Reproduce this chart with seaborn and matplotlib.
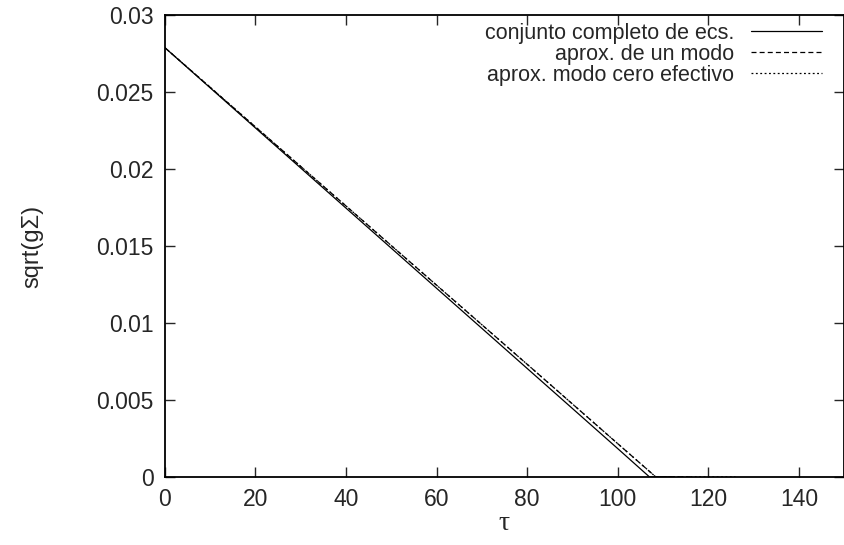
import pandas as pd
import matplotlib
matplotlib.use("Agg")
import matplotlib.pyplot as plt
import seaborn as sns

# data
tau_full = [0, 20, 40, 60, 80, 100, 107, 112]
sig_full = [0.0279, 0.02268, 0.01747, 0.01226, 0.00705, 0.00184, 0.0, 0.0]

tau_one = [0, 20, 40, 60, 80, 100, 108.4, 116]
sig_one = [0.0279, 0.02275, 0.01761, 0.01246, 0.00732, 0.00216, 0.0, 0.0]

tau_zero = [0, 20, 40, 60, 80, 100, 108.4, 126]
sig_zero = [0.0279, 0.02275, 0.01761, 0.01246, 0.00732, 0.00216, 0.0, 0.0]

labels = ["conjunto completo de ecs.", "aprox. de un modo", "aprox. modo cero efectivo"]
yticks = [0, 0.005, 0.01, 0.015, 0.02, 0.025, 0.03]
ytick_labels = ["0", "0.005", "0.01", "0.015", "0.02", "0.025", "0.03"]
xticks = [0, 20, 40, 60, 80, 100, 120, 140]

sns.set_style("ticks")
plt.rcParams['font.family'] = ['Liberation Sans', 'DejaVu Sans']

fig = plt.figure(figsize=(8.45, 5.45), dpi=100)
ax = fig.add_axes([0.195, 0.125, 0.804, 0.847])

styles = ["-", (0, (4, 2.5)), (0, (1.5, 2))]
for tx, sy, lab, ls in zip([tau_full, tau_one, tau_zero], [sig_full, sig_one, sig_zero], labels, styles):
    df = pd.DataFrame({"tau": tx, "sig": sy})
    sns.lineplot(data=df, x="tau", y="sig", ax=ax, color="black", linewidth=0.9,
                 linestyle=ls, label=lab)

ax.set_xlim(0, 150)
ax.set_ylim(0, 0.03)
ax.set_xticks(xticks)
ax.set_xticklabels([str(v) for v in xticks], fontsize=16.5)
ax.set_yticks(yticks)
ax.set_yticklabels(ytick_labels, fontsize=16.5)
ax.tick_params(direction="in", top=True, right=True, length=7, width=1, pad=8)
for s in ax.spines.values():
    s.set_linewidth(1.3)
    s.set_color("black")

ax.set_xlabel("τ", fontsize=20, labelpad=0, family=["Liberation Serif", "DejaVu Serif"])
ax.set_ylabel("sqrt(gΣ)", fontsize=17, labelpad=38)

# legend: text right aligned, line sample on the right
leg = ax.legend(loc="upper right", bbox_to_anchor=(0.979, 1.0), frameon=False,
                markerfirst=False, fontsize=15.5, handlelength=3.3, labelspacing=0.0,
                borderpad=0.2, borderaxespad=0.15, handletextpad=0.8)

plt.savefig("out.png", dpi=100)
